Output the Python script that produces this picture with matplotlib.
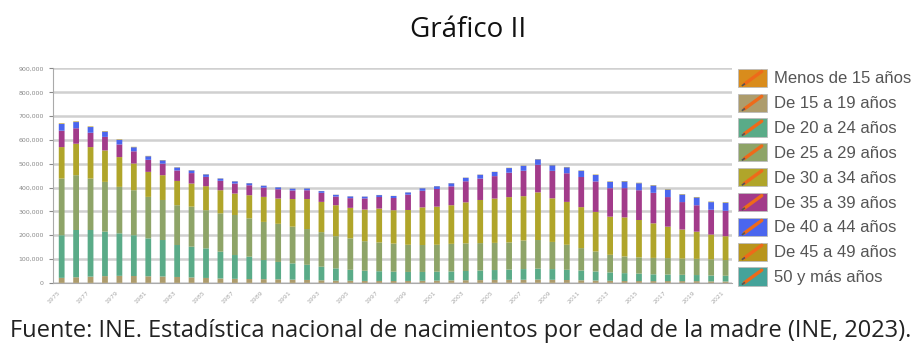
import numpy as np
import matplotlib.pyplot as plt
from matplotlib.patches import Rectangle
from matplotlib.lines import Line2D
from matplotlib.legend_handler import HandlerPatch
from matplotlib.ticker import FuncFormatter

# Nacimientos por edad de la madre, España (miles)
anios = list(range(1975, 2022))

menos_15 = [0.2, 0.2, 0.2, 0.3, 0.3, 0.3, 0.3, 0.3, 0.3, 0.3, 0.3, 0.2, 0.2, 0.2, 0.2, 0.2,
            0.2, 0.2, 0.2, 0.2, 0.2, 0.2, 0.2, 0.2, 0.2, 0.2, 0.3, 0.3, 0.4, 0.4, 0.5, 0.5,
            0.5, 0.5, 0.4, 0.4, 0.4, 0.3, 0.3, 0.3, 0.3, 0.3, 0.3, 0.3, 0.3, 0.2, 0.2]
de_15_19 = [21.0, 23.4, 26.1, 28.2, 29.3, 28.7, 27.4, 26.7, 24.6, 22.7, 20.5, 18.3, 17.0, 16.1,
            15.6, 14.8, 13.6, 12.3, 10.8, 9.5, 8.9, 8.2, 8.0, 7.9, 8.1, 8.8, 9.5, 10.4, 11.0,
            11.4, 12.1, 12.4, 12.8, 13.5, 12.7, 11.8, 10.7, 9.8, 8.6, 7.8, 7.6, 7.4, 7.5, 7.4,
            7.2, 6.4, 5.9]
de_20_24 = [178.8, 198.4, 195.7, 186.5, 178.4, 171.0, 159.3, 153.0, 134.1, 129.0, 124.2, 112.5,
            99.8, 93.7, 80.2, 73.0, 68.2, 63.5, 57.0, 51.3, 45.9, 42.6, 40.8, 38.9, 37.7, 37.0,
            37.2, 37.3, 38.6, 40.2, 41.4, 43.1, 44.7, 46.0, 44.9, 42.8, 40.9, 37.9, 35.1, 32.9,
            31.1, 28.3, 27.2, 26.3, 25.5, 24.4, 23.9]
de_25_29 = [238, 230, 216, 209, 195, 189, 174, 168, 167, 168, 160, 161, 168, 161, 160, 160,
            154, 150, 145, 135, 132, 124, 121, 118, 114, 113, 113, 116, 116, 115, 114, 114,
            120, 120, 114, 105, 94, 84, 74, 70, 68, 69, 69, 68, 68, 68, 66]
de_30_34 = [132, 132, 132, 132, 125, 112, 105, 104, 102, 97, 101, 97, 90, 97, 105, 106, 116,
            126, 127, 130, 128, 133, 142, 140, 146, 158, 160, 162, 172, 181, 186, 190, 186, 200,
            183, 180, 172, 166, 160, 164, 157, 145, 132, 122, 114, 104, 100]
de_35_39 = [68.8, 65.0, 60.1, 56.8, 53.1, 51.3, 50.5, 48.4, 43.8, 43.8, 38.9, 39.5, 42.1, 41.8,
            38.8, 39.1, 36.0, 36.8, 38.0, 36.4, 40.7, 46.6, 48.6, 51.4, 64.4, 69.6, 74.1, 79.3,
            88.5, 89.8, 94.0, 102.5, 106.6, 115.6, 115.2, 120.2, 126.4, 127.9, 119.5, 122.8,
            124.9, 128.1, 124.2, 115.2, 110.9, 104.0, 106.6]
de_40_44 = [28, 26, 24, 22, 19, 17, 15, 14, 12.5, 11.5, 10.5, 9.5, 9, 8.5, 8, 7.8, 7.5, 7.4,
            7.3, 7.2, 7.3, 7.5, 7.9, 8.3, 9.2, 10.5, 11.6, 12.8, 14.6, 16.0, 17.5, 19.5, 20.8,
            23.0, 23.5, 25.0, 26.0, 27.0, 26.5, 28.0, 29.5, 30.5, 31.0, 31.5, 32.5, 32.0, 33.5]
de_45_49 = [2.6, 2.5, 2.3, 2.1, 1.9, 1.7, 1.5, 1.3, 1.1, 1.0, 0.9, 0.8, 0.7, 0.6, 0.6, 0.5,
            0.5, 0.5, 0.5, 0.5, 0.5, 0.5, 0.5, 0.5, 0.5, 0.5, 0.7, 0.7, 0.8, 0.8, 0.9, 1.0,
            1.1, 1.2, 1.3, 1.4, 1.5, 1.6, 1.6, 1.7, 1.7, 1.8, 1.8, 1.9, 2.0, 2.0, 2.1]
de_50_mas = [0.05] * 31 + [0.1] * 9 + [0.2] * 7

grupos = ["Menos de 15 años", "De 15 a 19 años", "De 20 a 24 años", "De 25 a 29 años",
          "De 30 a 34 años", "De 35 a 39 años", "De 40 a 44 años", "De 45 a 49 años",
          "50 y más años"]
series = [menos_15, de_15_19, de_20_24, de_25_29, de_30_34, de_35_39, de_40_44,
          de_45_49, de_50_mas]
colores = ["#d98c1c", "#ad9c6c", "#5aab88", "#8ea468", "#b0a52a", "#a23b8a", "#4b66ee",
           "#b8951c", "#45a39a"]


class HandlerLapiz(HandlerPatch):
    # cuadro de color con un pequeño lápiz naranja encima
    def create_artists(self, legend, orig_handle, xdescent, ydescent, width, height,
                       fontsize, trans):
        r = Rectangle((-xdescent, -ydescent), width, height,
                      facecolor=orig_handle.get_facecolor(), edgecolor="#bbbbbb",
                      lw=0.6, transform=trans)
        x0, y0 = -xdescent + width * 0.22, -ydescent + height * 0.15
        x1, y1 = -xdescent + width * 0.82, -ydescent + height * 0.85
        l = Line2D([x0, x1], [y0, y1], color="#ee6a1a", lw=2.4,
                   solid_capstyle="round", transform=trans)
        p = Line2D([x0 - width * 0.06, x0], [y0 - height * 0.07, y0], color="#555555",
                   lw=1.2, transform=trans)
        return [r, l, p]


fig = plt.figure(figsize=(9.22, 3.51), dpi=100)
ax = fig.add_axes([0.0575, 0.194, 0.7365, 0.611])

x = np.arange(len(anios))
base = np.zeros(len(anios))
handles = []
for nombre, vals, col in zip(grupos, series, colores):
    v = np.array(vals) * 1000
    ax.bar(x, v, width=0.4, bottom=base, color=col, linewidth=0, zorder=3, snap=False)
    base += v
    handles.append(Rectangle((0, 0), 1, 1, facecolor=col, label=nombre))

ax.set_xlim(-0.6, len(anios) - 0.55)
ax.set_ylim(0, 900000)
ax.set_yticks(np.arange(0, 900001, 100000))
ax.yaxis.set_major_formatter(FuncFormatter(lambda v, p: f"{int(v):,}"))
ax.grid(axis="y", color="#d0d0d0", lw=1.8, zorder=0)
ax.set_xticks(x[::2])
ax.set_xticklabels([str(a) for a in anios[::2]], rotation=45, ha="right")
ax.tick_params(axis="y", labelsize=4.5, colors="#888888", length=3, width=0.8)
ax.tick_params(axis="x", labelsize=4.5, colors="#aaaaaa", length=0, pad=5)
for s in ["top", "right"]:
    ax.spines[s].set_visible(False)
ax.spines["left"].set_color("#aaaaaa")
ax.spines["bottom"].set_color("#aaaaaa")

fig.legend(handles=handles, loc="upper left", bbox_to_anchor=(0.784, 0.847),
           frameon=False, labelcolor="#555555",
           handler_map={Rectangle: HandlerLapiz()},
           handlelength=1.75, handleheight=1.3, handletextpad=0.4, labelspacing=0.4,
           prop={"family": "Liberation Sans", "size": 12})

fig.text(0.508, 0.915, "Gráfico II", ha="center", va="center", fontsize=20,
         family="Open Sans", color="#111111")
fig.text(0.5, 0.058, "Fuente: INE. Estadística nacional de nacimientos por edad de la madre (INE, 2023).",
         ha="center", va="center", fontsize=17, family="Open Sans", color="#222222")

fig.savefig("out.png", dpi=100)
